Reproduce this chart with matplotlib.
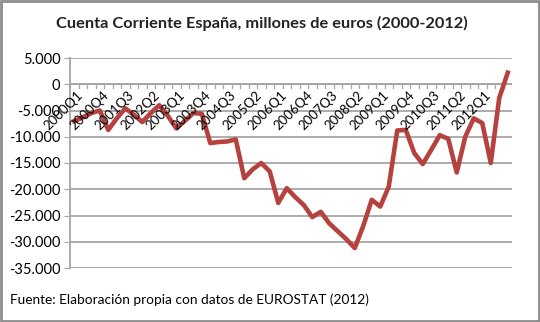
import matplotlib.pyplot as plt
from matplotlib.patches import Rectangle

plt.rcParams['font.family'] = ['Lato', 'DejaVu Sans']

# quarterly current account, millions of euros
years = list(range(2000, 2013))
quarters = [f"{y}Q{q}" for y in years for q in range(1, 5)]
values = [
    -7000, -6300, -5500, -5000, -8700, -6500, -4600, -5800,
    -7200, -5500, -4000, -6000, -8400, -7000, -5500, -5600,
    -11200, -11000, -10900, -10500, -17900, -16200, -15000, -16600,
    -22600, -19800, -21500, -23000, -25300, -24300, -26500, -28000,
    -29500, -31200, -27000, -22000, -23300, -19500, -8800, -8700,
    -13100, -15200, -12500, -9700, -10400, -16800, -10000, -6500,
    -7400, -15000, -2600, 2200,
]
y_ticks = list(range(-35000, 5001, 5000))

fig = plt.figure(figsize=(5.4, 3.22), dpi=100)
ax = fig.add_axes([70 / 540, 1 - 268 / 322, 442 / 540, 210 / 322])

x = range(len(values))
ax.plot(x, values, color='#b5423f', linewidth=3.3, solid_joinstyle='round', zorder=3)

ax.set_xlim(-0.5, len(values) - 0.5)
ax.set_ylim(-35000, 5000)
ax.set_yticks(y_ticks)
ax.set_yticklabels([f"{v:,}".replace(',', '.') for v in y_ticks], fontsize=10.5)
ax.grid(axis='y', color='#a6a6a6', linewidth=1.3)
ax.set_axisbelow(True)

for s in ['top', 'right', 'bottom']:
    ax.spines[s].set_visible(False)
ax.spines['left'].set_color('#a6a6a6')
ax.spines['left'].set_linewidth(1.3)
ax.tick_params(axis='y', length=4, color='#a6a6a6', pad=3)

# category axis drawn at zero, ticks between categories
ax.axhline(0, color='#a6a6a6', linewidth=1.3, zorder=2)
ax.set_xticks([])
for i in range(len(values) + 1):
    ax.plot([i - 0.5, i - 0.5], [0, -800], color='#a6a6a6', linewidth=0.9, zorder=2)
for i in range(0, 49, 3):
    ax.text(i + 0.3, -900, quarters[i], rotation=45, rotation_mode='anchor',
            ha='right', va='top', fontsize=9.5, color='black', zorder=4)

fig.text(262 / 540, 1 - 23 / 322, 'Cuenta Corriente España, millones de euros (2000-2012)',
         ha='center', va='center', fontsize=11.8, fontweight='bold', color='#222222')
fig.text(10 / 540, 1 - 300 / 322, 'Fuente: Elaboración propia con datos de EUROSTAT (2012)',
         ha='left', va='center', fontsize=9.8, color='black')

fig.patches.append(Rectangle((0.002, 0.003), 0.996, 0.994, transform=fig.transFigure,
                             fill=False, edgecolor='#8c8c8c', linewidth=2))

fig.savefig('out.png', dpi=100, facecolor='white')
